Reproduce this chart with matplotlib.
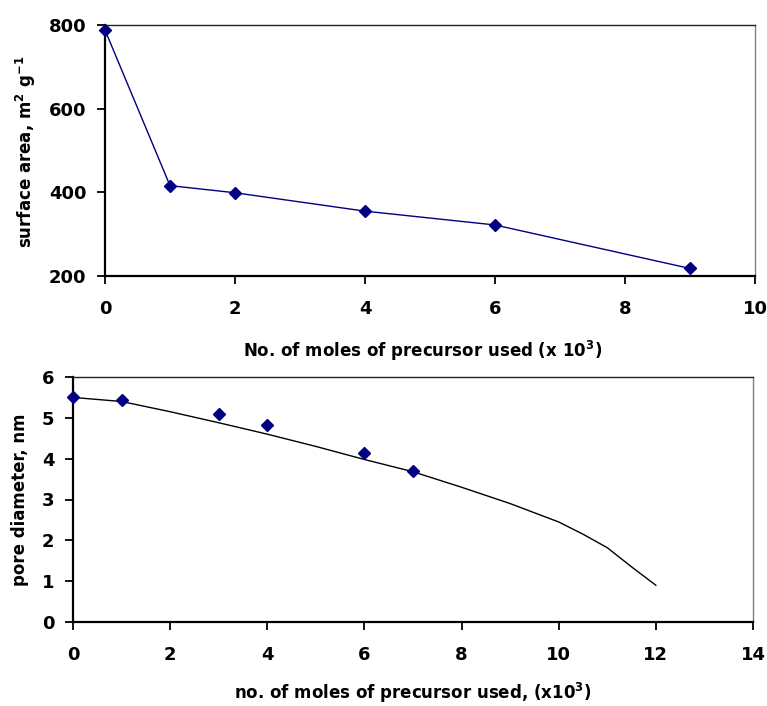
import matplotlib
matplotlib.use("Agg")
import matplotlib.pyplot as plt

plt.rcParams['font.family'] = ['DejaVu Sans']
plt.rcParams['font.weight'] = 'bold'
plt.rcParams['mathtext.fontset'] = 'custom'
plt.rcParams['mathtext.rm'] = 'DejaVu Sans:bold'
plt.rcParams['mathtext.it'] = 'DejaVu Sans:bold'
plt.rcParams['mathtext.bf'] = 'DejaVu Sans:bold'
plt.rcParams['mathtext.default'] = 'rm'

# Top panel: surface area vs moles of precursor
sa_moles = [0, 1, 2, 4, 6, 9]
sa_values = [788, 416, 399, 355, 322, 218]

# Bottom panel: pore diameter data points
pd_moles = [0, 1, 3, 4, 6, 7]
pd_values = [5.52, 5.43, 5.09, 4.83, 4.15, 3.69]

# Bottom panel: fitted curve
fit_moles = [0, 1, 2, 3, 4, 5, 6, 7, 8, 9, 10, 10.5, 11, 11.5, 12]
fit_values = [5.5, 5.4, 5.15, 4.88, 4.6, 4.3, 3.98, 3.68, 3.3, 2.9, 2.45, 2.15, 1.82, 1.35, 0.9]

top_xticks = [0, 2, 4, 6, 8, 10]
top_yticks = [200, 400, 600, 800]
bot_xticks = [0, 2, 4, 6, 8, 10, 12, 14]
bot_yticks = [0, 1, 2, 3, 4, 5, 6]

W, H = 767, 706
fig = plt.figure(figsize=(W / 100, H / 100), dpi=100)

def px_axes(l, t, r, b):
    return fig.add_axes([l / W, 1 - b / H, (r - l) / W, (b - t) / H])

navy = '#000080'

def style(ax):
    for s in ['left', 'bottom']:
        ax.spines[s].set_linewidth(1.6)
        ax.spines[s].set_color('black')
    ax.spines['top'].set_linewidth(1.0)
    ax.spines['top'].set_color('#202020')
    ax.spines['right'].set_linewidth(1.0)
    ax.spines['right'].set_color('#808080')
    ax.tick_params(axis='both', direction='out', length=5.5, width=1.3,
                   labelsize=13, colors='black')
    ax.tick_params(axis='x', pad=12)
    ax.tick_params(axis='y', pad=8)
    for lab in ax.get_xticklabels() + ax.get_yticklabels():
        lab.set_fontweight('bold')

# Top axes
ax1 = px_axes(105, 25, 755, 276)
ax1.plot(sa_moles, sa_values, color=navy, lw=1.0, marker='D', ms=6,
         mfc=navy, mec=navy, clip_on=False, zorder=3)
ax1.set_xlim(0, 10)
ax1.set_ylim(200, 800)
ax1.set_xticks(top_xticks)
ax1.set_yticks(top_yticks)
style(ax1)
ax1.set_xlabel('No. of moles of precursor used (x 10$^3$)', fontsize=12, fontweight='bold')
ax1.xaxis.label.set_va('center')
ax1.xaxis.set_label_coords(0.489, -0.297)
ax1.set_ylabel('surface area, m$^2$ g$^{-1}$', fontsize=12, fontweight='bold')
ax1.yaxis.label.set_va('center')
ax1.yaxis.set_label_coords(-0.1215, 0.496)

# Bottom axes
ax2 = px_axes(73, 377, 753, 622)
ax2.plot(fit_moles, fit_values, color='black', lw=1.0, zorder=2)
ax2.plot(pd_moles, pd_values, linestyle='none', marker='D', ms=6,
         mfc=navy, mec=navy, clip_on=False, zorder=3)
ax2.set_xlim(0, 14)
ax2.set_ylim(0, 6)
ax2.set_xticks(bot_xticks)
ax2.set_yticks(bot_yticks)
style(ax2)
ax2.set_xlabel('no. of moles of precursor used, (x10$^3$)', fontsize=12, fontweight='bold')
ax2.xaxis.label.set_va('center')
ax2.xaxis.set_label_coords(0.499, -0.29)
ax2.set_ylabel('pore diameter, nm', fontsize=12, fontweight='bold')
ax2.yaxis.label.set_va('center')
ax2.yaxis.set_label_coords(-0.078, 0.5)

fig.savefig('out.png', dpi=100)
